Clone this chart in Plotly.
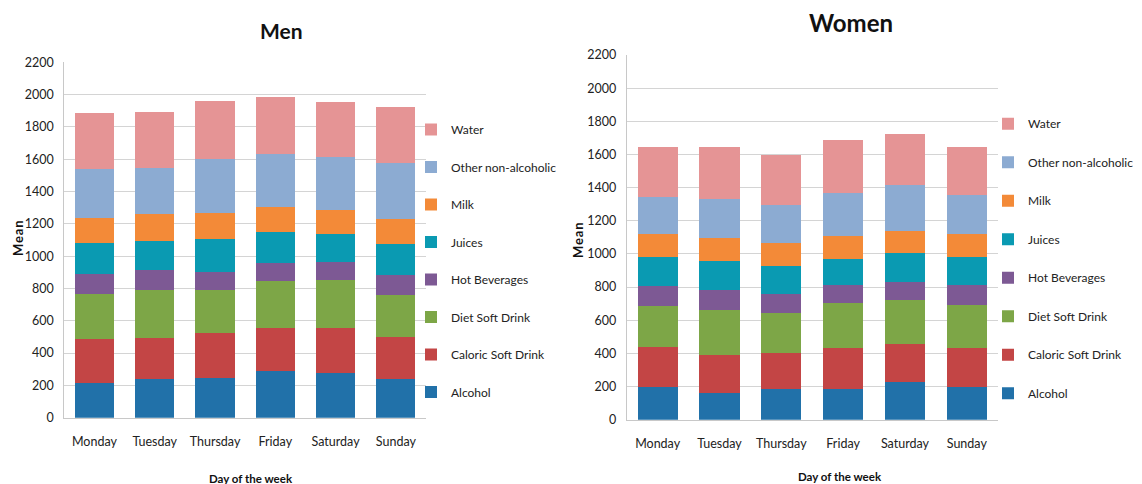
import plotly.graph_objects as go

days = ["Monday", "Tuesday", "Thursday", "Friday", "Saturday", "Sunday"]
categories = ["Alcohol", "Caloric Soft Drink", "Diet Soft Drink", "Hot Beverages",
              "Juices", "Milk", "Other non-alcoholic", "Water"]
colors = ["#2171a9", "#c34545", "#7da647", "#7d5994", "#0a9ab2", "#f38a38", "#8cabd2", "#e59495"]

men_alcohol = [213, 238, 246, 289, 275, 238]
men_caloric = [274, 255, 276, 264, 278, 262]
men_diet = [281, 297, 268, 293, 299, 261]
men_hot = [123, 122, 114, 110, 114, 120]
men_juices = [190, 184, 200, 195, 173, 192]
men_milk = [155, 163, 161, 151, 149, 155]
men_other = [301, 287, 338, 332, 324, 347]
men_water = [347, 346, 355, 353, 344, 346]

women_alcohol = [197, 159, 187, 187, 229, 197]
women_caloric = [243, 233, 213, 247, 228, 237]
women_diet = [244, 270, 244, 272, 265, 258]
women_hot = [122, 122, 116, 108, 107, 120]
women_juices = [174, 173, 169, 157, 178, 168]
women_milk = [142, 141, 137, 135, 129, 142]
women_other = [219, 233, 229, 261, 278, 231]
women_water = [304, 314, 304, 320, 307, 292]

men = [men_alcohol, men_caloric, men_diet, men_hot, men_juices, men_milk, men_other, men_water]
women = [women_alcohol, women_caloric, women_diet, women_hot, women_juices, women_milk, women_other, women_water]

FONT = "Lato, 'Open Sans', sans-serif"
fig = go.Figure()

n = len(categories)
for i, (name, col, vals) in enumerate(zip(categories, colors, men)):
    fig.add_trace(go.Bar(x=days, y=vals, name=name, marker=dict(color=col, line=dict(width=0)),
                         xaxis="x", yaxis="y", legend="legend", legendgroup="m" + name,
                         legendrank=n - i))
for i, (name, col, vals) in enumerate(zip(categories, colors, women)):
    fig.add_trace(go.Bar(x=days, y=vals, name=name, marker=dict(color=col, line=dict(width=0)),
                         xaxis="x2", yaxis="y2", legend="legend2", legendgroup="w" + name,
                         legendrank=n - i))

# page body has an 8px default margin, so the figure is sized to the visible area
W, H = 1134, 476
OFF = 8


def px(x):
    return (x - OFF) / W


def py(y):
    return 1 - (y - OFF) / H


axfont = dict(family=FONT, size=12.5, color="#222222")
yax = dict(range=[0, 2200], dtick=200, showgrid=True, gridcolor="#d4d4d4", gridwidth=1,
           showline=True, linecolor="#c8c8c8", zeroline=False, tickfont=axfont, ticks="",
           ticklabelstandoff=7, automargin=False)
xax = dict(showline=True, linecolor="#c8c8c8", tickfont=axfont, ticks="", ticklabelstandoff=12,
           automargin=False)

mean_txt = "<b>M\u200ae\u200aa\u200an</b>"

fig.update_layout(
    width=W, height=H, barmode="stack", bargap=0.35,
    paper_bgcolor="white", plot_bgcolor="white",
    margin=dict(l=0, r=0, t=0, b=0, autoexpand=False),
    xaxis=dict(domain=[px(64.3), px(426)], anchor="y", **xax),
    yaxis=dict(domain=[py(417.7), py(62.3)], anchor="x", **yax),
    xaxis2=dict(domain=[px(626.7), px(997.7)], anchor="y2", **xax),
    yaxis2=dict(domain=[py(419.7), py(55)], anchor="x2", **yax),
    legend=dict(x=px(411), y=py(115), xanchor="left", yanchor="top",
                traceorder="grouped", tracegroupgap=18.5,
                font=dict(family=FONT, size=12, color="#222222"), bgcolor="rgba(0,0,0,0)"),
    legend2=dict(x=px(988), y=py(109.3), xanchor="left", yanchor="top",
                 traceorder="grouped", tracegroupgap=19.5,
                 font=dict(family=FONT, size=12, color="#222222"), bgcolor="rgba(0,0,0,0)"),
    annotations=[
        dict(text="<b>Men</b>", x=px(281), y=py(30), xref="paper", yref="paper",
             xanchor="center", yanchor="middle",
             showarrow=False, font=dict(family=FONT, size=21, color="#111111")),
        dict(text="<b>Women</b>", x=px(851), y=py(22), xref="paper", yref="paper",
             xanchor="center", yanchor="middle",
             showarrow=False, font=dict(family=FONT, size=24, color="#111111")),
        dict(text=mean_txt, x=px(18), y=py(238), xref="paper", yref="paper",
             xanchor="center", yanchor="middle",
             showarrow=False, textangle=-90, font=dict(family=FONT, size=13, color="#111111")),
        dict(text=mean_txt, x=px(578), y=py(240), xref="paper", yref="paper",
             xanchor="center", yanchor="middle",
             showarrow=False, textangle=-90, font=dict(family=FONT, size=13, color="#111111")),
        dict(text="<b>Day of the week</b>", x=px(251), y=py(478), xref="paper", yref="paper",
             xanchor="center", yanchor="middle",
             showarrow=False, font=dict(family=FONT, size=11.5, color="#111111")),
        dict(text="<b>Day of the week</b>", x=px(840), y=py(476), xref="paper", yref="paper",
             xanchor="center", yanchor="middle",
             showarrow=False, font=dict(family=FONT, size=11.5, color="#111111")),
    ],
)

fig.write_html("out.html")
